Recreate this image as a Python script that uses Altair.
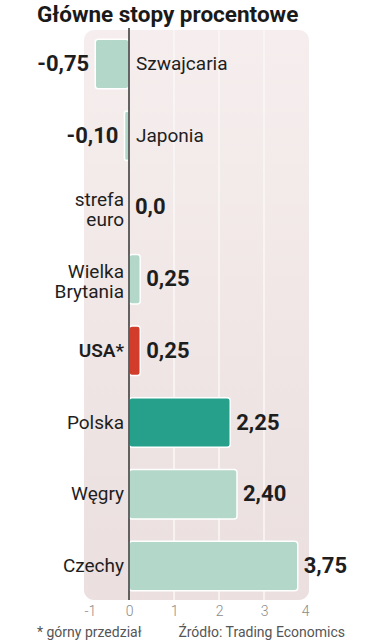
import altair as alt
import pandas as pd

countries = ["Szwajcaria", "Japonia", "strefa\neuro", "Wielka\nBrytania", "USA*", "Polska", "Węgry", "Czechy"]
values = [-0.75, -0.10, 0.0, 0.25, 0.25, 2.25, 2.40, 3.75]
value_labels = ["-0,75", "-0,10", "0,0", "0,25", "0,25", "2,25", "2,40", "3,75"]
groups = ["inne", "inne", "inne", "inne", "USA", "Polska", "inne", "inne"]
x_ticks = [-1, 0, 1, 2, 3, 4]
grid_values = [1, 2, 3]
title_text = "Główne stopy procentowe"
note_left = "* górny przedział"
note_right = "Źródło: Trading Economics"

df = pd.DataFrame({"country": countries, "value": values, "label": value_labels, "group": groups})

W, H = 225, 570
FONT = "Roboto"

xscale = alt.Scale(domain=[-1, 4], nice=False, zero=False)
yscale = alt.Scale(domain=countries, paddingInner=0.31, paddingOuter=0.13)

bg = alt.Chart(pd.DataFrame({"x0": [x_ticks[0]], "x1": [x_ticks[-1]]})).mark_rect(
    cornerRadius=10,
    color=alt.LinearGradient(
        gradient="linear", x1=0, y1=0, x2=0, y2=1,
        stops=[alt.GradientStop(offset=0, color="#f6eeee"),
               alt.GradientStop(offset=1, color="#ebdfdf")],
    ),
).encode(
    x=alt.X("x0:Q", scale=xscale, title=None,
            axis=alt.Axis(values=x_ticks, domain=False, ticks=False, grid=False,
                          labelColor="#8a8a8a", labelFontSize=14, labelFont=FONT,
                          labelFontWeight=300, labelPadding=4,
                          labelExpr="toString(datum.value)")),
    x2="x1:Q",
    y=alt.value(0),
    y2=alt.value(H),
)

grid = alt.Chart(pd.DataFrame({"g": grid_values})).mark_rule(color="#fbf7f7", strokeWidth=1.5).encode(
    x=alt.X("g:Q", scale=xscale),
    y=alt.value(0),
    y2=alt.value(H),
)

base = alt.Chart(df).transform_calculate(
    zero="0", multi="indexof(datum.country, '\\n') >= 0"
)

bars = base.transform_filter("datum.value != 0").mark_bar(
    cornerRadius=3, stroke="white", strokeWidth=1.5
).encode(
    x=alt.X("value:Q", scale=xscale),
    x2="zero:Q",
    y=alt.Y("country:N", scale=yscale, axis=None),
    color=alt.Color("group:N", legend=None,
                    scale=alt.Scale(domain=["inne", "Polska", "USA"],
                                    range=["#b3d8ca", "#27a08b", "#d23c2b"])),
)

zero_line = alt.Chart(pd.DataFrame({"z": [0]})).mark_rule(color="#333333", strokeWidth=1.5).encode(
    x=alt.X("z:Q", scale=xscale),
    y=alt.value(-2),
    y2=alt.value(H),
)

txt = dict(baseline="middle", font=FONT, color="#1e1e1e", lineBreak="\n", lineHeight=20)

country_neg = base.transform_filter("datum.value < 0").mark_text(
    align="left", dx=7, fontSize=19, **txt
).encode(x=alt.X("zero:Q", scale=xscale), y=alt.Y("country:N", scale=yscale), text="country:N")

country_pos = base.transform_filter("datum.value >= 0 && datum.group != 'USA' && !datum.multi").mark_text(
    align="right", dx=-5, fontSize=19, **txt
).encode(x=alt.X("zero:Q", scale=xscale), y=alt.Y("country:N", scale=yscale), text="country:N")

country_multi = base.transform_filter("datum.value >= 0 && datum.multi").mark_text(
    align="right", dx=-5, dy=-7, fontSize=19, **txt
).encode(x=alt.X("zero:Q", scale=xscale), y=alt.Y("country:N", scale=yscale), text="country:N")

country_usa = base.transform_filter("datum.group == 'USA'").mark_text(
    align="right", dx=-5, fontSize=19, fontWeight=600, **txt
).encode(x=alt.X("zero:Q", scale=xscale), y=alt.Y("country:N", scale=yscale), text="country:N")

val_neg = base.transform_filter("datum.value < 0").mark_text(
    align="right", dx=-6, fontSize=22, fontWeight="bold", **txt
).encode(x=alt.X("value:Q", scale=xscale), y=alt.Y("country:N", scale=yscale), text="label:N")

val_pos = base.transform_filter("datum.value >= 0").mark_text(
    align="left", dx=6, fontSize=22, fontWeight="bold", **txt
).encode(x=alt.X("value:Q", scale=xscale), y=alt.Y("country:N", scale=yscale), text="label:N")

title = alt.Chart(pd.DataFrame({"t": [title_text]})).mark_text(
    align="left", baseline="alphabetic", font=FONT, fontSize=22.5, fontWeight="bold", color="#1a1a1a"
).encode(x=alt.value(-47), y=alt.value(-8), text="t:N")

notes = alt.Chart(pd.DataFrame({"t": [note_left]})).mark_text(
    align="left", baseline="alphabetic", font=FONT, fontSize=14, color="#555555"
).encode(x=alt.value(-47), y=alt.value(607), text="t:N")

source = alt.Chart(pd.DataFrame({"t": [note_right]})).mark_text(
    align="right", baseline="alphabetic", font=FONT, fontSize=14, color="#555555"
).encode(x=alt.value(261), y=alt.value(607), text="t:N")

chart = alt.layer(
    bg, grid, bars, zero_line, country_neg, country_pos, country_multi, country_usa,
    val_neg, val_pos, title, notes, source
).properties(
    width=W, height=H,
    autosize=alt.AutoSizeParams(type="none"),
    padding={"left": 84, "top": 30, "right": 60, "bottom": 40},
    background="white",
).configure_view(strokeWidth=0)

chart.save("out.html", embed_options={"renderer": "svg", "actions": False})
